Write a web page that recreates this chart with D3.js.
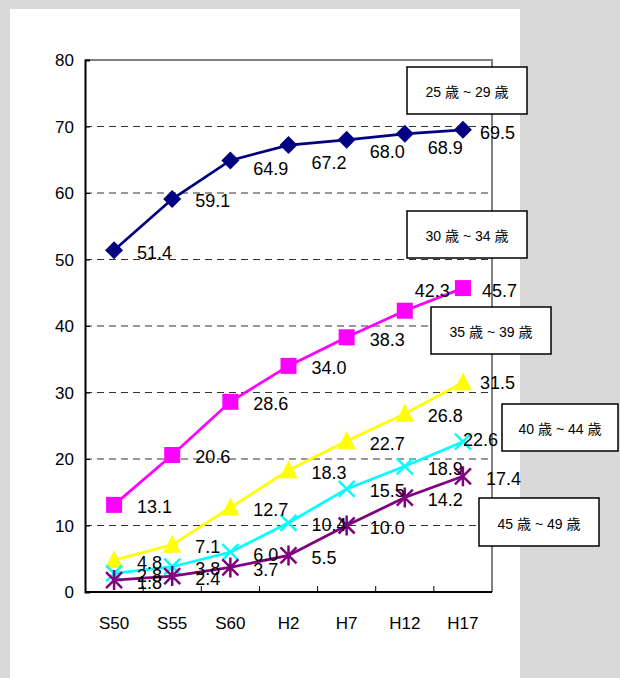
<!DOCTYPE html>
<html>
<head>
<meta charset="utf-8">
<script src="https://cdn.jsdelivr.net/npm/d3@7"></script>
<style>
  html, body { margin: 0; padding: 0; background: #d9d9d9; }
  svg { display: block; }
  text { font-family: "Liberation Sans", Arial, "Noto Sans CJK JP", sans-serif; fill: #000; }
</style>
</head>
<body>
<script>
// Survey years (Showa / Heisei)
const categories = ["S50", "S55", "S60", "H2", "H7", "H12", "H17"];

// Unmarried share by age group (%)
const seriesNames = ["25 歳 ~ 29 歳", "30 歳 ~ 34 歳", "35 歳 ~ 39 歳", "40 歳 ~ 44 歳", "45 歳 ~ 49 歳"];
const age25to29 = [51.4, 59.1, 64.9, 67.2, 68.0, 68.9, 69.5];
const age30to34 = [13.1, 20.6, 28.6, 34.0, 38.3, 42.3, 45.7];
const age35to39 = [4.8, 7.1, 12.7, 18.3, 22.7, 26.8, 31.5];
const age40to44 = [2.8, 3.8, 6.0, 10.4, 15.5, 18.9, 22.6];
const age45to49 = [1.8, 2.4, 3.7, 5.5, 10.0, 14.2, 17.4];

const yTicks = [0, 10, 20, 30, 40, 50, 60, 70, 80];

const seriesValues = [age25to29, age30to34, age35to39, age40to44, age45to49];
const colors = ["#000080", "#ff00ff", "#ffff00", "#00ffff", "#800080"];
const markers = ["diamond", "square", "triangle", "cross", "star"];

// Label nudges [dx, dy] where a value label is moved off its default spot
const labelNudge = {
  "0-2": [0, 6], "0-3": [0, 15], "0-4": [0, 10], "0-5": [0, 12], "0-6": [-6, 1],
  "1-5": [-13, -22], "1-6": [-4, 0],
  "2-6": [-6, -2],
  "3-6": [-23, -4]
};

// Name boxes placed beside the plot: [x, y, w, h]
const boxes = [
  [407, 67, 120, 47],
  [407, 211, 120, 47],
  [431, 307, 120, 47],
  [502, 404, 116, 47],
  [479, 498, 120, 48]
];

const W = 620, H = 678;
const plot = { left: 85, right: 492, top: 60, bottom: 592 };

const svg = d3.select("body").append("svg").attr("width", W).attr("height", H);

// white sheet
svg.append("rect").attr("x", 10).attr("y", 9).attr("width", 510).attr("height", H - 9).attr("fill", "#fff");

const x = d3.scaleBand().domain(categories).range([plot.left, plot.right]).paddingInner(0).paddingOuter(0);
const cx = c => x(c) + x.bandwidth() / 2;
const y = d3.scaleLinear().domain([0, 80]).range([plot.bottom, plot.top]);

// dashed gridlines
svg.append("g").selectAll("line").data(yTicks.filter(t => t > 0 && t < 80)).join("line")
  .attr("x1", plot.left).attr("x2", plot.right)
  .attr("y1", d => y(d)).attr("y2", d => y(d))
  .attr("stroke", "#333").attr("stroke-width", 1).attr("stroke-dasharray", "7,5");

// frame: top and right in grey
svg.append("path")
  .attr("d", `M${plot.left},${plot.top}H${plot.right}V${plot.bottom}`)
  .attr("fill", "none").attr("stroke", "#808080").attr("stroke-width", 2);

// left axis
const yAxis = d3.axisLeft(y).tickValues(yTicks).tickSize(-5).tickPadding(14).tickFormat(d3.format("d"));
const gy = svg.append("g").attr("transform", `translate(${plot.left},0)`).call(yAxis);
gy.select(".domain").attr("stroke", "#000").attr("stroke-width", 2);
gy.selectAll(".tick line").attr("stroke", "#000").attr("stroke-width", 1);
gy.selectAll(".tick text").attr("font-size", 17).attr("font-family", "Liberation Sans, Arial, sans-serif").attr("dy", "0.35em").attr("x", -11);

// bottom axis with ticks between categories
const gx = svg.append("g").attr("transform", `translate(0,${plot.bottom})`);
gx.append("line").attr("x1", plot.left).attr("x2", plot.right).attr("stroke", "#000").attr("stroke-width", 2);
gx.selectAll("line.tk").data(categories.slice(1)).join("line").attr("class", "tk")
  .attr("x1", d => x(d)).attr("x2", d => x(d)).attr("y1", 0).attr("y2", -6)
  .attr("stroke", "#000").attr("stroke-width", 1);
gx.selectAll("text").data(categories).join("text")
  .attr("x", d => cx(d)).attr("y", 37).attr("text-anchor", "middle")
  .attr("font-size", 17).text(d => d);

// series
const line = d3.line().x((d, i) => cx(categories[i])).y(d => y(d));

function drawMarker(g, type, color) {
  if (type === "diamond") {
    g.append("path").attr("d", "M0,-9L9,0L0,9L-9,0Z").attr("fill", color);
  } else if (type === "square") {
    g.append("rect").attr("x", -8).attr("y", -8).attr("width", 16).attr("height", 16).attr("fill", color);
  } else if (type === "triangle") {
    g.append("path").attr("d", "M0,-10L9,8L-9,8Z").attr("fill", color);
  } else if (type === "cross") {
    g.append("path").attr("d", "M-8,-8L8,8M-8,8L8,-8").attr("stroke", color).attr("stroke-width", 2.5).attr("fill", "none");
  } else if (type === "star") {
    g.append("path").attr("d", "M-8,-8L8,8M-8,8L8,-8M0,-10V10").attr("stroke", color).attr("stroke-width", 2.5).attr("fill", "none");
  }
}

seriesValues.forEach((vals, s) => {
  const g = svg.append("g");
  g.append("path").datum(vals).attr("d", line)
    .attr("fill", "none").attr("stroke", colors[s]).attr("stroke-width", 2.75);
  vals.forEach((v, i) => {
    const m = g.append("g").attr("transform", `translate(${cx(categories[i])},${y(v)})`);
    drawMarker(m, markers[s], colors[s]);
  });
});

// value labels
const lg = svg.append("g");
seriesValues.forEach((vals, s) => {
  vals.forEach((v, i) => {
    const n = labelNudge[`${s}-${i}`] || [0, 0];
    lg.append("text")
      .attr("x", cx(categories[i]) + 23 + n[0])
      .attr("y", y(v) + 2 + n[1])
      .attr("dy", "0.36em")
      .attr("font-size", 18)
      .text(d3.format(".1f")(v));
  });
});

// series name boxes
const bg = svg.append("g");
boxes.forEach((b, s) => {
  bg.append("rect").attr("x", b[0]).attr("y", b[1]).attr("width", b[2]).attr("height", b[3])
    .attr("fill", "#fff").attr("stroke", "#000").attr("stroke-width", 1.5);
  bg.append("text").attr("x", b[0] + b[2] / 2).attr("y", b[1] + b[3] / 2 + 2)
    .attr("dy", "0.35em").attr("text-anchor", "middle").attr("font-size", 14)
    .attr("font-family", "Liberation Sans, 'Noto Sans CJK JP', sans-serif")
    .text(seriesNames[s]);
});
</script>
</body>
</html>
